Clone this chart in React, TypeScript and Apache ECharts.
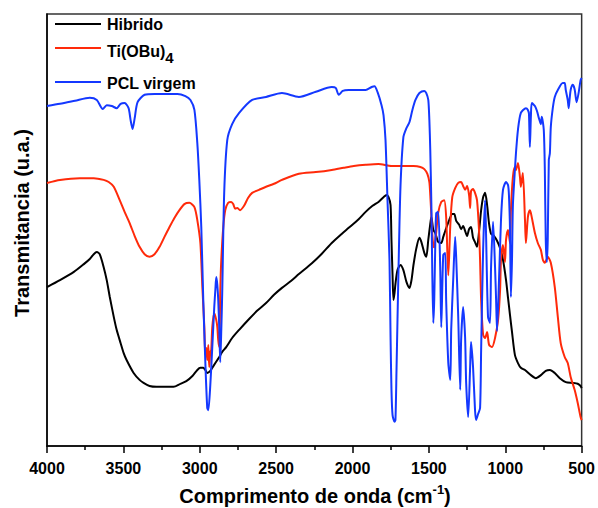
import React, { useEffect, useRef } from "react";
import * as echarts from "echarts";

// Wavenumber (cm-1), transmittance (arbitrary units, 0-100)
const hibrido: [number, number][] = [
  [4000, 36.8], [3915, 38.4], [3824, 40.3], [3759, 42.1], [3720, 43.3], [3694, 44.4], [3674, 44.9], [3655, 44.4],
  [3629, 41.4], [3609, 38.4], [3589, 34.5], [3563, 29.9], [3544, 26.9], [3518, 23.8], [3498, 21.5], [3479, 19.9],
  [3433, 16.9], [3394, 15.3], [3368, 14.6], [3329, 13.9], [3283, 13.7], [3231, 13.7], [3172, 13.7], [3127, 14.4],
  [3088, 15.0], [3048, 16.2], [3016, 17.6], [2996, 18.1], [2977, 18.1], [2964, 17.6], [2951, 16.9], [2931, 17.4],
  [2911, 18.5], [2885, 19.9], [2872, 20.6], [2853, 21.8], [2827, 22.9], [2788, 25.0], [2742, 26.9], [2677, 29.4],
  [2625, 31.3], [2566, 33.1], [2514, 35.0], [2462, 36.6], [2403, 38.2], [2351, 39.8], [2266, 42.3], [2201, 44.5],
  [2136, 47.0], [2071, 49.1], [2025, 50.5], [1960, 52.5], [1914, 54.2], [1869, 55.6], [1830, 56.5], [1797, 57.6],
  [1777, 58.1], [1764, 57.6], [1751, 55.8], [1745, 47.7], [1738, 39.6], [1732, 33.8], [1725, 35.4], [1719, 37.5],
  [1706, 40.7], [1686, 41.9], [1667, 40.7], [1647, 38.0], [1627, 36.6], [1614, 38.4], [1601, 41.9], [1582, 45.8],
  [1562, 48.2], [1549, 47.2], [1530, 44.7], [1517, 43.8], [1504, 47.7], [1491, 51.4], [1484, 53.0], [1471, 50.0],
  [1458, 49.3], [1439, 47.2], [1419, 47.0], [1406, 48.4], [1387, 50.4], [1367, 52.3], [1347, 53.7], [1334, 53.7],
  [1321, 52.1], [1302, 51.2], [1289, 50.2], [1276, 50.9], [1263, 49.8], [1250, 48.6], [1237, 50.2], [1224, 50.7],
  [1211, 48.2], [1198, 47.2], [1185, 46.1], [1172, 49.5], [1158, 54.6], [1145, 57.6], [1132, 58.6], [1119, 55.8],
  [1106, 51.4], [1093, 49.1], [1073, 48.6], [1054, 47.5], [1034, 45.8], [1015, 43.1], [995, 38.4], [982, 34.3],
  [969, 30.3], [956, 26.4], [937, 21.1], [917, 19.2], [898, 18.1], [871, 17.6], [832, 16.4], [800, 15.7],
  [767, 16.4], [735, 17.4], [708, 17.6], [676, 16.9], [643, 15.7], [604, 14.8], [559, 14.6], [526, 14.4],
  [507, 13.9], [500, 13.4],
];

const tiobu: [number, number][] = [
  [4000, 60.9], [3915, 61.6], [3785, 62.0], [3694, 62.0], [3629, 61.6], [3596, 61.1], [3563, 60.0], [3524, 56.9],
  [3492, 54.2], [3459, 51.6], [3426, 48.6], [3394, 46.1], [3361, 44.4], [3329, 43.8], [3296, 44.4], [3263, 46.1],
  [3231, 48.4], [3198, 50.7], [3166, 52.8], [3133, 54.6], [3101, 56.0], [3068, 56.3], [3035, 55.3], [3016, 52.3],
  [2996, 47.0], [2983, 36.8], [2970, 27.5], [2964, 21.1], [2957, 22.7], [2951, 19.9], [2944, 23.4], [2938, 18.3],
  [2931, 21.8], [2925, 22.2], [2918, 27.5], [2905, 30.8], [2892, 29.2], [2885, 27.5], [2879, 24.5], [2872, 22.9],
  [2866, 35.4], [2859, 43.1], [2846, 50.7], [2833, 54.6], [2814, 56.3], [2794, 56.5], [2781, 56.0], [2768, 54.9],
  [2755, 55.1], [2736, 54.6], [2710, 55.6], [2684, 57.4], [2657, 58.6], [2612, 59.3], [2566, 60.0], [2514, 60.7],
  [2462, 61.6], [2351, 63.0], [2240, 63.4], [2136, 63.9], [2058, 64.4], [1992, 64.8], [1914, 65.1], [1830, 65.3],
  [1745, 64.8], [1667, 64.8], [1601, 64.8], [1556, 64.6], [1530, 64.1], [1510, 63.0], [1497, 61.1], [1491, 58.1],
  [1484, 53.5], [1478, 49.0], [1471, 46.5], [1465, 46.0], [1452, 49.5], [1439, 54.0], [1419, 56.5], [1400, 56.9],
  [1387, 53.0], [1373, 39.5], [1360, 51.0], [1347, 57.6], [1328, 59.7], [1308, 60.9], [1289, 61.1], [1276, 60.2],
  [1263, 59.3], [1250, 60.2], [1237, 58.1], [1230, 55.1], [1224, 59.0], [1211, 59.5], [1198, 58.6], [1185, 56.9],
  [1172, 50.0], [1165, 43.1], [1158, 33.8], [1145, 25.7], [1132, 25.0], [1119, 26.4], [1106, 23.4], [1087, 22.9],
  [1067, 25.0], [1047, 29.2], [1034, 36.1], [1028, 43.1], [1015, 46.5], [1002, 42.6], [995, 47.7], [982, 50.0],
  [969, 47.0], [963, 54.6], [950, 62.3], [937, 64.6], [930, 63.9], [917, 65.5], [904, 62.3], [898, 60.0],
  [885, 63.2], [871, 52.3], [865, 47.0], [852, 53.0], [839, 54.6], [832, 53.9], [806, 49.3], [787, 47.0],
  [767, 45.4], [754, 43.1], [741, 42.4], [722, 43.8], [702, 42.4], [676, 36.8], [656, 29.9], [637, 23.8],
  [611, 20.6], [591, 19.2], [572, 16.0], [546, 13.0], [526, 10.0], [507, 6.7], [500, 6.0],
];

const pcl: [number, number][] = [
  [4000, 78.7], [3915, 79.2], [3817, 79.9], [3720, 80.6], [3674, 80.1], [3635, 78.0], [3609, 78.9], [3576, 78.7],
  [3544, 78.2], [3518, 79.2], [3492, 79.4], [3466, 78.2], [3453, 75.5], [3440, 73.4], [3426, 75.9], [3407, 79.6],
  [3361, 81.3], [3296, 81.5], [3231, 81.5], [3146, 81.5], [3094, 81.0], [3061, 80.1], [3035, 77.8], [3016, 70.1],
  [3003, 61.6], [2990, 50.7], [2977, 33.8], [2964, 19.9], [2951, 8.8], [2944, 8.3], [2931, 14.1], [2918, 22.9],
  [2905, 32.2], [2898, 36.1], [2892, 39.1], [2885, 37.3], [2879, 33.8], [2872, 26.9], [2866, 19.4], [2859, 26.9],
  [2853, 35.4], [2840, 58.6], [2820, 70.8], [2788, 74.5], [2742, 77.1], [2657, 80.1], [2566, 80.8], [2462, 81.7],
  [2351, 80.8], [2240, 82.0], [2136, 83.1], [2110, 82.9], [2090, 81.3], [2064, 82.2], [2025, 82.4], [1960, 82.4],
  [1914, 82.4], [1875, 83.1], [1856, 83.3], [1836, 81.9], [1810, 78.9], [1797, 76.6], [1784, 70.8], [1771, 56.9],
  [1758, 43.1], [1751, 25.2], [1745, 13.0], [1738, 7.2], [1725, 5.6], [1719, 6.0], [1712, 17.6], [1699, 40.7],
  [1686, 60.0], [1667, 71.5], [1647, 73.6], [1627, 75.0], [1608, 77.8], [1588, 80.1], [1562, 81.7], [1530, 82.2],
  [1517, 81.7], [1504, 80.1], [1497, 75.5], [1491, 68.5], [1484, 56.3], [1478, 40.7], [1471, 28.5], [1465, 33.8],
  [1458, 47.0], [1452, 53.9], [1439, 54.2], [1426, 41.4], [1419, 27.5], [1406, 44.2], [1393, 44.7], [1387, 33.8],
  [1373, 19.2], [1360, 15.3], [1354, 26.9], [1341, 38.4], [1328, 48.4], [1321, 43.3], [1308, 29.9], [1295, 13.0],
  [1289, 24.5], [1276, 32.2], [1263, 25.2], [1256, 14.6], [1243, 6.7], [1230, 18.3], [1224, 24.1], [1211, 18.3],
  [1198, 8.3], [1191, 6.0], [1178, 7.4], [1165, 8.8], [1158, 22.2], [1145, 45.4], [1132, 56.9], [1126, 49.3],
  [1113, 29.9], [1100, 28.5], [1093, 41.4], [1080, 51.9], [1067, 41.4], [1060, 33.8], [1054, 26.6], [1041, 38.4],
  [1028, 52.3], [1015, 59.3], [995, 61.1], [982, 60.4], [976, 58.1], [969, 50.0], [963, 34.5], [956, 43.1],
  [950, 55.8], [937, 63.9], [930, 67.8], [917, 73.2], [898, 77.1], [865, 78.2], [852, 77.8], [845, 76.9],
  [839, 69.2], [832, 76.6], [826, 79.4], [806, 78.7], [793, 77.6], [780, 75.9], [767, 74.5], [761, 76.2],
  [748, 73.2], [741, 63.9], [735, 47.7], [728, 42.6], [722, 47.7], [715, 66.2], [708, 67.8], [702, 73.8],
  [689, 78.2], [676, 80.8], [656, 82.4], [624, 84.0], [611, 84.0], [604, 82.4], [591, 80.1], [585, 78.2],
  [578, 80.6], [572, 82.4], [559, 83.6], [546, 82.6], [533, 79.6], [520, 81.7], [507, 84.7], [500, 85.2],
];

const seriesNames = ["Hibrido", "Ti(OBu)4", "PCL virgem"];
const seriesColors = ["#000000", "#ff2a0a", "#1438ff"];
const xTicks = [500, 1000, 1500, 2000, 2500, 3000, 3500, 4000];

const FONT = "'Liberation Sans', Arial, Helvetica, sans-serif";

export default function App() {
  const ref = useRef<HTMLDivElement>(null);
  useEffect(() => {
    document.body.style.margin = "0";
    if (!ref.current) return;
    const chart = echarts.init(ref.current, undefined, { renderer: "svg" });
    const datasets = [hibrido, tiobu, pcl];
    const legendY = [24, 48, 82];
    const legendTextY = [24, 51, 83];
    const legendGraphics: any[] = [];
    seriesNames.forEach((name, i) => {
      legendGraphics.push({
        type: "line",
        shape: { x1: 55, y1: legendY[i], x2: 101, y2: legendY[i] },
        style: { stroke: seriesColors[i], lineWidth: 2 },
        z: 100,
      });
      const txt = name === "Ti(OBu)4" ? "Ti(OBu){sub|4}" : name;
      legendGraphics.push({
        type: "text",
        x: 107,
        y: legendTextY[i],
        z: 100,
        style: {
          text: txt,
          fontFamily: FONT,
          fontWeight: "bold",
          fontSize: 16,
          fill: "#000",
          align: "left",
          verticalAlign: "middle",
          rich: {
            sub: { fontFamily: FONT, fontWeight: "bold", fontSize: 15, fill: "#000", padding: [12, 0, 0, 0] },
          },
        },
      });
    });

    chart.setOption({
      animation: false,
      backgroundColor: "#ffffff",
      grid: {
        left: 47,
        right: 14,
        top: 14,
        bottom: 62,
        show: true,
        borderColor: "#333333",
        borderWidth: 1.5,
        backgroundColor: "transparent",
      },
      xAxis: {
        type: "value",
        min: 500,
        max: 4000,
        interval: 500,
        inverse: true,
        axisLine: { show: true, lineStyle: { color: "#000", width: 1.5 } },
        axisTick: { show: true, inside: false, length: 7, lineStyle: { color: "#000", width: 1.5 } },
        minorTick: { show: true, splitNumber: 2, length: 4, lineStyle: { color: "#000", width: 1.5 } },
        splitLine: { show: false },
        axisLabel: {
          margin: 14,
          color: "#000",
          fontFamily: FONT,
          fontWeight: "bold",
          fontSize: 16,
          formatter: (v: number) => (xTicks.includes(v) ? String(v) : ""),
        },
      },
      yAxis: {
        type: "value",
        min: 0,
        max: 100,
        axisLine: { show: true, lineStyle: { color: "#000", width: 1.5 } },
        axisTick: { show: false },
        axisLabel: { show: false },
        splitLine: { show: false },
      },
      series: datasets.map((d, i) => ({
        name: seriesNames[i],
        type: "line",
        data: d,
        showSymbol: false,
        smooth: 0.25,
        lineStyle: { color: seriesColors[i], width: 2 },
        itemStyle: { color: seriesColors[i] },
        z: 2 + i,
      })),
      graphic: [
        ...legendGraphics,
        {
          type: "text",
          x: 22,
          y: 223,
          rotation: Math.PI / 2,
          style: {
            text: "Transmitancia (u.a.)",
            fontFamily: FONT,
            fontWeight: "bold",
            fontSize: 20,
            fill: "#000",
            align: "center",
            verticalAlign: "middle",
          },
        },
        {
          type: "text",
          x: 315,
          y: 496,
          style: {
            text: "Comprimento de onda (cm{sup|-1})",
            fontFamily: FONT,
            fontWeight: "bold",
            fontSize: 20,
            fill: "#000",
            align: "center",
            verticalAlign: "middle",
            rich: {
              sup: { fontFamily: FONT, fontWeight: "bold", fontSize: 13, fill: "#000", padding: [0, 0, 14, 0] },
            },
          },
        },
      ],
    });
    return () => chart.dispose();
  }, []);
  return (
    <div
      ref={ref}
      style={{ position: "absolute", left: 0, top: 0, width: 598, height: 508 }}
    />
  );
}
